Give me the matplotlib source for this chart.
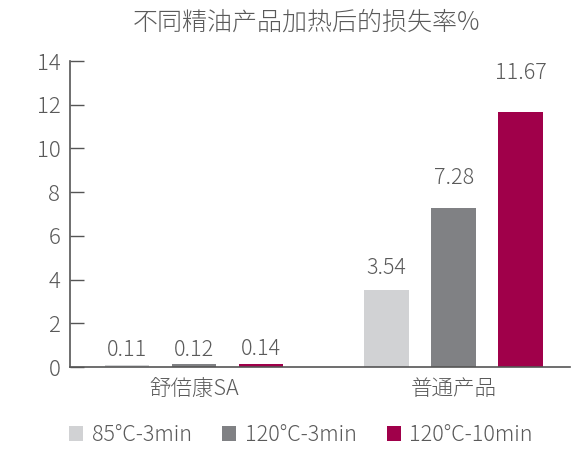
import numpy as np
import matplotlib
matplotlib.use('Agg')
import matplotlib.pyplot as plt
from matplotlib.patches import Patch

plt.rcParams['font.family'] = ['Noto Sans CJK JP', 'DejaVu Sans']
plt.rcParams['font.weight'] = 300

categories = ['舒倍康SA', '普通产品']
series_names = ['85°C-3min', '120°C-3min', '120°C-10min']
values_85_3 = [0.11, 3.54]
values_120_3 = [0.12, 7.28]
values_120_10 = [0.14, 11.67]
value_labels = [['0.11', '3.54'], ['0.12', '7.28'], ['0.14', '11.67']]
yticks = [0, 2, 4, 6, 8, 10, 12, 14]

colors = ['#d1d2d4', '#808184', '#a0004a']
text_color = '#5a5a5a'
axis_color = '#555555'

fig = plt.figure(figsize=(5.73, 4.63), dpi=100)
ax = fig.add_axes([70 / 573, 1 - 367 / 463, 500 / 573, 306 / 463])

x = np.arange(len(categories))
width = 0.172
offset = 0.258
all_series = [values_85_3, values_120_3, values_120_10]
for i, (vals, c) in enumerate(zip(all_series, colors)):
    pos = x + (i - 1) * offset
    ax.bar(pos, vals, width=width, color=c, zorder=2)
    for p, v, lab in zip(pos, vals, value_labels[i]):
        # labels sit progressively higher above taller bars, as in the source
        ax.text(p, v * 1.095 + 0.38, lab, ha='center', va='baseline', fontsize=15.5,
                color=text_color)

ax.set_xlim(-0.477, 1.448)
ax.set_ylim(0, 14)
ax.set_yticks(yticks)
ax.set_yticklabels([str(t) for t in yticks], fontsize=16, color=text_color)
ax.tick_params(axis='y', direction='in', length=10, width=1, color=axis_color, pad=7)
ax.set_xticks(x)
ax.set_xticklabels(categories, fontsize=15.5, color=text_color)
ax.tick_params(axis='x', length=0, pad=8)

for s in ['top', 'right']:
    ax.spines[s].set_visible(False)
for s in ['left', 'bottom']:
    ax.spines[s].set_color(axis_color)
    ax.spines[s].set_linewidth(1.2)

fig.text(307 / 573, 1 - 22 / 463, '不同精油产品加热后的损失率%', ha='center', va='center',
         fontsize=18, color=text_color)

handles = [Patch(facecolor=c, edgecolor='none') for c in colors]
fig.legend(handles, series_names, loc='center', bbox_to_anchor=(301 / 573, 1 - 435 / 463),
           ncol=3, frameon=False, handlelength=0.65, handleheight=0.65,
           handletextpad=0.4, columnspacing=1.4, labelcolor=text_color,
           prop={'weight': 300, 'size': 15.5})

fig.savefig('out.png', dpi=100)
